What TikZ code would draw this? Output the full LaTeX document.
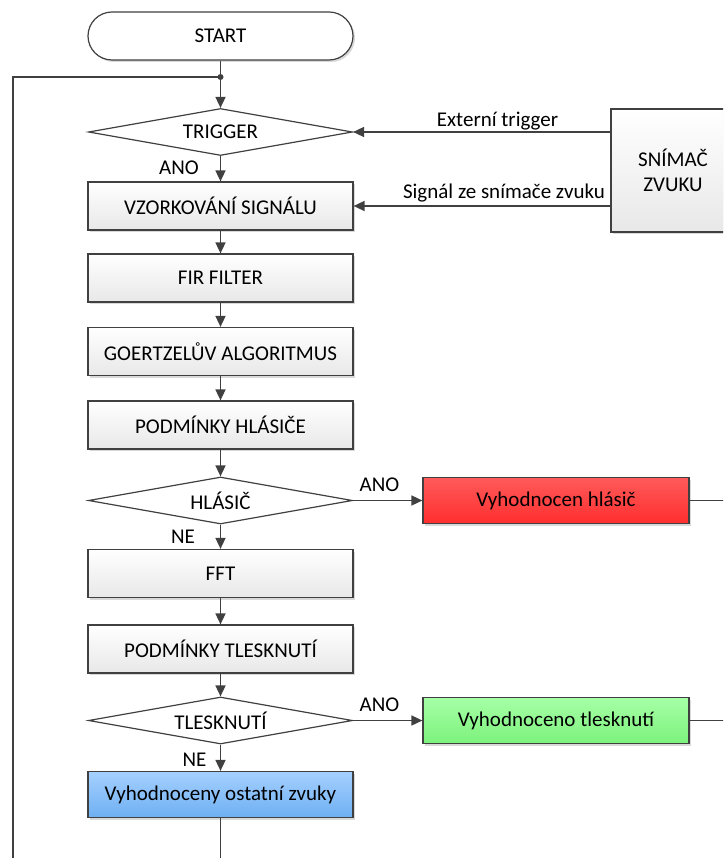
\documentclass[tikz,border=0pt]{standalone}
\usepackage{fontspec}
\setmainfont{Carlito}
\usetikzlibrary{shapes.geometric,arrows.meta,shadows}
\definecolor{linec}{HTML}{404040}
\definecolor{boxB}{HTML}{E8E8E8}
\definecolor{redT}{HTML}{FF5A5A}
\definecolor{redB}{HTML}{FF2E2E}
\definecolor{greenT}{HTML}{A6FFA6}
\definecolor{greenB}{HTML}{7CF27C}
\definecolor{blueT}{HTML}{A5D0FF}
\definecolor{blueB}{HTML}{6EB0F2}

\begin{document}
\begin{tikzpicture}[
  x=1pt, y=-1pt,
  font=\fontsize{21}{25}\selectfont,
  base/.style={draw=linec,line width=1.2pt,minimum width=265pt,minimum height=48pt,inner sep=0pt,
    drop shadow={shadow xshift=2pt,shadow yshift=-2pt,opacity=0.15,fill=black}},
  proc/.style={base,rectangle,top color=white,bottom color=boxB},
  term/.style={base,rectangle,rounded corners=24pt,fill=white},
  dec/.style={draw=linec,line width=1.2pt,diamond,shape aspect=5.5,minimum width=264pt,minimum height=47pt,inner sep=0pt,fill=white},
  line/.style={draw=linec,line width=1.6pt},
  arr/.style={line,-{Triangle[length=11pt,width=10pt]}},
  lbl/.style={inner sep=0pt}
]
  \useasboundingbox (0,0) rectangle (723,858);
  \clip (0,0) rectangle (723,858);

  % main column
  \node[term] (start) at (220.5,36) {START};
  \node[dec] (trig) at (220.5,132) {TRIGGER};
  \node[proc] (vzork) at (220.5,206) {VZORKOVÁNÍ SIGNÁLU};
  \node[proc] (fir) at (220.5,278) {FIR FILTER};
  \node[proc] (goer) at (220.5,351.5) {GOERTZELŮV ALGORITMUS};
  \node[proc] (podh) at (220.5,425) {PODMÍNKY HLÁSIČE};
  \node[dec] (hlas) at (220.5,500.5) {HLÁSIČ};
  \node[proc] (fft) at (220.5,573.5) {FFT};
  \node[proc] (podt) at (220.5,649) {PODMÍNKY TLESKNUTÍ};
  \node[dec] (tlesk) at (220.5,720.5) {TLESKNUTÍ};
  \node[proc,top color=blueT,bottom color=blueB,minimum height=46pt] (ost) at (220.5,794.5) {Vyhodnoceny ostatní zvuky};

  % results and sensor
  \node[proc,top color=redT,bottom color=redB,minimum width=266pt,minimum height=46pt] (hl) at (556,500.5) {Vyhodnocen hlásič};
  \node[proc,top color=greenT,bottom color=greenB,minimum width=266pt,minimum height=46pt] (tl) at (556,720.5) {Vyhodnoceno tlesknutí};
  \node[proc,minimum width=124pt,minimum height=123pt,align=center] (snim) at (673,170.5) {SNÍMAČ\\ZVUKU};

  \coordinate (dot) at (220.5,77);
  \coordinate (loopt) at (13,77);
  \coordinate (loopb) at (13,870);
  \coordinate (endb) at (220.5,870);
  \coordinate (hlr) at (740,500.5);
  \coordinate (tlr) at (740,720.5);

  % connectors
  \draw[arr] (start) -- (trig);
  \fill[linec] (dot) circle (3pt);
  \draw[line] (loopb) -- (loopt) -- (dot);
  \draw[arr] (trig) -- (vzork);
  \draw[arr] (vzork) -- (fir);
  \draw[arr] (fir) -- (goer);
  \draw[arr] (goer) -- (podh);
  \draw[arr] (podh) -- (hlas);
  \draw[arr] (hlas) -- (fft);
  \draw[arr] (fft) -- (podt);
  \draw[arr] (podt) -- (tlesk);
  \draw[arr] (tlesk) -- (ost);
  \draw[line] (ost) -- (endb);
  \draw[arr] (hlas) -- (hl);
  \draw[arr] (tlesk) -- (tl);
  \draw[line] (hl) -- (hlr);
  \draw[line] (tl) -- (tlr);
  \draw[arr] (snim.west |- trig.east) -- (trig.east);
  \draw[arr] (snim.west |- vzork.east) -- (vzork.east);

  % labels
  \node[lbl] (ano1) at (179,168) {ANO};
  \node[lbl] (ano2) at (379.5,485) {ANO};
  \node[lbl] (ne1) at (183,537) {NE};
  \node[lbl] (ano3) at (379.5,705) {ANO};
  \node[lbl] (ne2) at (194.5,760) {NE};
  \node[lbl] (ext) at (497.5,121) {Externí trigger};
  \node[lbl] (sig) at (504,193) {Signál ze snímače zvuku};
\end{tikzpicture}
\end{document}
